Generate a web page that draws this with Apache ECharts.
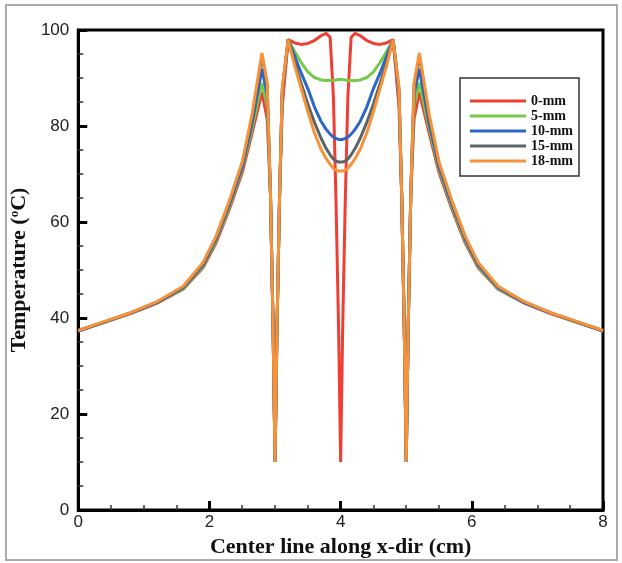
<!DOCTYPE html>
<html lang="en" style="height: 100%;width: 100%">
<head>
    <meta charset="UTF-8">
    <title>Center line temperature</title>
</head>
<body style="height: 100%; margin: 0; background: #fff">
<div id="container" style="width: 622px; height: 563px"></div>
<script src="https://cdn.jsdelivr.net/npm/echarts@6.0.0/dist/echarts.min.js"></script>
<script type="text/javascript">
    // x positions along the center line (cm)
    var xPos = [0, 0.4, 0.8, 1.2, 1.6, 1.9, 2.1, 2.3, 2.5, 2.65, 2.8, 2.88, 2.93, 2.97, 3.0, 3.03, 3.07, 3.11, 3.2,
        3.3, 3.4, 3.5, 3.6, 3.7, 3.78, 3.84, 3.89, 3.93, 3.97,
        4.0,
        4.03, 4.07, 4.11, 4.16, 4.22, 4.3, 4.4, 4.5, 4.6, 4.7,
        4.8, 4.89, 4.93, 4.97, 5.0, 5.03, 5.07, 5.12, 5.2, 5.35, 5.5, 5.7, 5.9, 6.1, 6.4, 6.8, 7.2, 7.6, 8.0];

    var names = ['0-mm', '5-mm', '10-mm', '15-mm', '18-mm'];
    var colors = ['#ef3e33', '#78c94a', '#2b67c6', '#5c6566', '#f7913a'];

    var t0mm = [37.3, 39.1, 40.9, 43.1, 46.0, 50.4, 55.6, 62.5, 70.3, 78.5, 87.0, 81.5, 66, 38, 10, 38, 66, 84, 98,
        97.3, 97.0, 97.2, 97.8, 98.8, 99.3, 98.5, 86, 64, 37,
        10,
        37, 64, 86, 98.5, 99.3, 98.8, 97.8, 97.2, 97.0, 97.3,
        98, 84, 66, 38, 10, 38, 66, 81.5, 87.0, 78.5, 70.3, 62.5, 55.6, 50.4, 46.0, 43.1, 40.9, 39.1, 37.3];
    var t5mm = [37.3, 39.1, 41.0, 43.2, 46.1, 50.7, 56.0, 63.0, 71.0, 79.5, 89.0, 84.0, 66, 38, 10, 38, 66, 86.5, 98,
        95.5, 93.2, 91.3, 90.1, 89.6, 89.5, 89.5, 89.5, 89.6, 89.7,
        89.8,
        89.7, 89.6, 89.5, 89.5, 89.5, 89.6, 90.1, 91.3, 93.2, 95.5,
        98, 86.5, 66, 38, 10, 38, 66, 84.0, 89.0, 79.5, 71.0, 63.0, 56.0, 50.7, 46.1, 43.2, 41.0, 39.1, 37.3];
    var t10mm = [37.3, 39.2, 41.0, 43.2, 46.3, 51.0, 56.4, 63.5, 71.5, 80.5, 91.9, 86.5, 66, 38, 10, 38, 66, 87.0, 98,
        94.5, 91.0, 87.8, 84.0, 81.0, 79.3, 78.3, 77.7, 77.4, 77.2,
        77.2,
        77.2, 77.4, 77.7, 78.3, 79.3, 81.0, 84.0, 87.8, 91.0, 94.5,
        98, 87.0, 66, 38, 10, 38, 66, 86.5, 91.9, 80.5, 71.5, 63.5, 56.4, 51.0, 46.3, 43.2, 41.0, 39.2, 37.3];
    var t15mm = [37.4, 39.2, 41.1, 43.3, 46.5, 51.3, 56.8, 64.0, 72.2, 81.5, 94.7, 88.5, 66, 38, 10, 38, 66, 87.5, 98,
        93.2, 88.8, 84.6, 80.8, 77.5, 75.3, 74.0, 73.1, 72.7, 72.5,
        72.4,
        72.5, 72.7, 73.1, 74.0, 75.3, 77.5, 80.8, 84.6, 88.8, 93.2,
        98, 87.5, 66, 38, 10, 38, 66, 88.5, 94.7, 81.5, 72.2, 64.0, 56.8, 51.3, 46.5, 43.3, 41.1, 39.2, 37.4];
    var t18mm = [37.4, 39.3, 41.1, 43.4, 46.6, 51.5, 57.0, 64.3, 72.5, 82.5, 95.2, 89.0, 66, 38, 10, 38, 66, 88.0, 98,
        92.5, 87.8, 83.0, 78.6, 75.2, 73.2, 72.0, 71.2, 70.8, 70.6,
        70.5,
        70.6, 70.8, 71.2, 72.0, 73.2, 75.2, 78.6, 83.0, 87.8, 92.5,
        98, 88.0, 66, 38, 10, 38, 66, 89.0, 95.2, 82.5, 72.5, 64.3, 57.0, 51.5, 46.6, 43.4, 41.1, 39.3, 37.4];

    var temps = [t0mm, t5mm, t10mm, t15mm, t18mm];

    var serif = 'Liberation Serif';
    var sans = 'Liberation Sans';

    function pairs(ys) {
        var out = [];
        for (var i = 0; i < xPos.length; i++) {
            out.push([xPos[i], ys[i]]);
        }
        return out;
    }

    var series = [];
    for (var k = 0; k < names.length; k++) {
        series.push({
            name: names[k],
            type: 'line',
            data: pairs(temps[k]),
            showSymbol: false,
            symbol: 'none',
            smooth: false,
            lineStyle: { width: 3, color: colors[k] },
            itemStyle: { color: colors[k] }
        });
    }

    var chart = echarts.init(document.getElementById('container'));
    var option = {
        animation: false,
        backgroundColor: '#fff',
        graphic: [{
            type: 'rect',
            shape: { x: 6, y: 5, width: 611, height: 555 },
            style: { fill: 'none', stroke: '#a7adad', lineWidth: 2 },
            z: -1
        }],
        grid: {
            left: 76, right: 19, top: 30, bottom: 53,
            show: true, borderColor: '#000', borderWidth: 3
        },
        legend: {
            data: names,
            orient: 'vertical',
            left: 460, top: 78,
            padding: [16, 6, 8, 10],
            itemWidth: 56, itemHeight: 3, itemGap: 1,
            icon: 'rect',
            backgroundColor: '#fff',
            borderColor: '#2f3535', borderWidth: 1.5, borderRadius: 0,
            textStyle: { fontFamily: serif, fontWeight: 'bold', fontSize: 14, color: '#111' }
        },
        xAxis: {
            type: 'value',
            min: 0, max: 8, interval: 2,
            name: 'Center line along x-dir (cm)',
            nameLocation: 'middle', nameGap: 26,
            nameTextStyle: { fontFamily: serif, fontWeight: 'bold', fontSize: 22, color: '#111' },
            axisLine: { lineStyle: { color: '#000', width: 3 } },
            axisTick: { inside: true, length: 9, lineStyle: { color: '#000', width: 3 } },
            minorTick: { show: true, splitNumber: 4, length: 5, lineStyle: { color: '#333', width: 1.5 } },
            axisLabel: { fontFamily: sans, fontSize: 17, color: '#222', margin: 4 },
            splitLine: { show: false }
        },
        yAxis: {
            type: 'value',
            min: 0, max: 100, interval: 20,
            name: '{n|Temperature (}{sup|o}{n|C)}',
            nameLocation: 'middle', nameGap: 36,
            nameTextStyle: {
                rich: {
                    n: { fontFamily: serif, fontWeight: 'bold', fontSize: 22, color: '#111' },
                    sup: { fontFamily: serif, fontWeight: 'bold', fontSize: 13, color: '#111', verticalAlign: 'top', padding: [0, 0, 6, 0] }
                }
            },
            axisLine: { lineStyle: { color: '#000', width: 3 } },
            axisTick: { inside: true, length: 9, lineStyle: { color: '#000', width: 3 } },
            minorTick: { show: true, splitNumber: 4, length: 5, lineStyle: { color: '#333', width: 1.5 } },
            axisLabel: { fontFamily: sans, fontSize: 17, color: '#222', margin: 9 },
            splitLine: { show: false }
        },
        series: series
    };
    chart.setOption(option);
</script>
</body>
</html>
